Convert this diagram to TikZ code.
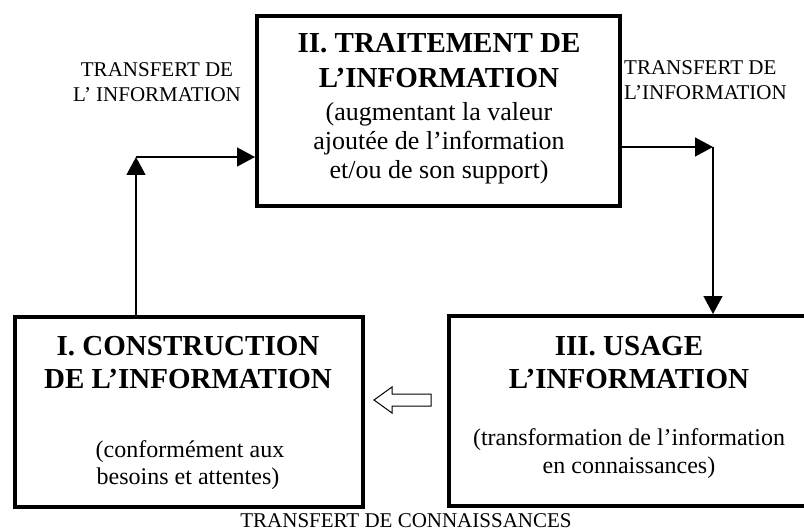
\documentclass[tikz,border=0pt]{standalone}
\usepackage{fontspec}
\setmainfont{Liberation Serif}
\usetikzlibrary{arrows.meta}
\tikzset{
  box/.style={draw, line width=4pt, inner sep=0pt},
  ttl/.style={anchor=base, font=\fontsize{29}{34}\selectfont\bfseries, inner sep=0pt},
  body/.style={anchor=base, font=\fontsize{26}{30}\selectfont, inner sep=0pt},
  bodyb/.style={anchor=base, font=\fontsize{24}{28}\selectfont, inner sep=0pt},
  lab/.style={anchor=base, font=\fontsize{21}{25}\selectfont, inner sep=0pt},
  conn/.style={line width=1.5pt, -{Triangle[length=18pt,width=19pt]}},
}
\begin{document}
\begin{tikzpicture}[x=1pt,y=-1pt]
\useasboundingbox (0,0) rectangle (804,532);
% boxes
\node[box, minimum width=363pt, minimum height=190pt] (b2) at (438.5,111) {};
\node[box, minimum width=348pt, minimum height=190pt] (b1) at (189,412) {};
\node[box, minimum width=360pt, minimum height=190pt] (b3) at (629,411) {};
% box II text
\node[ttl] (t21) at (439,53) {II. TRAITEMENT DE};
\node[ttl] (t22) at (439,88) {L'INFORMATION};
\node[body] (t23) at (439,121) {(augmentant la valeur};
\node[body] (t24) at (439,150) {ajoutée de l'information};
\node[body] (t25) at (439,179) {et/ou de son support)};
% box I text
\node[ttl] (t11) at (188,355) {I. CONSTRUCTION};
\node[ttl] (t12) at (188,388) {DE L'INFORMATION};
\node[bodyb] (t13) at (190,457) {(conformément aux};
\node[bodyb] (t14) at (188,484) {besoins et attentes)};
% box III text
\node[ttl] (t31) at (629,355) {III. USAGE};
\node[ttl] (t32) at (629,388) {L'INFORMATION};
\node[bodyb] (t33) at (629,445) {(transformation de l'information};
\node[bodyb] (t34) at (629,473) {en connaissances)};
% labels
\node[lab] (l1a) at (157,77) {TRANSFERT DE};
\node[lab] (l1b) at (157,102) {L' INFORMATION};
\node[lab, anchor=base west] (l2a) at (624,75) {TRANSFERT DE};
\node[lab, anchor=base west] (l2b) at (624,100) {L'INFORMATION};
\node[lab] (l3) at (406,527) {TRANSFERT DE CONNAISSANCES};
% connectors
\coordinate (c1) at (136,157);
\coordinate (c2) at (713,147);
\draw[conn] (b1.north -| c1) -- (c1);
\draw[conn] (c1) -- (c1 -| b2.west);
\draw[conn] (c2 -| b2.east) -- (c2);
\draw[conn] (c2) -- (c2 |- b3.north);
% hollow arrow
\draw[line width=1pt, fill=white] (431,394) -- (392,394) -- (392,387) -- (374,400) -- (392,413) -- (392,406) -- (431,406) -- cycle;
\end{tikzpicture}
\end{document}
